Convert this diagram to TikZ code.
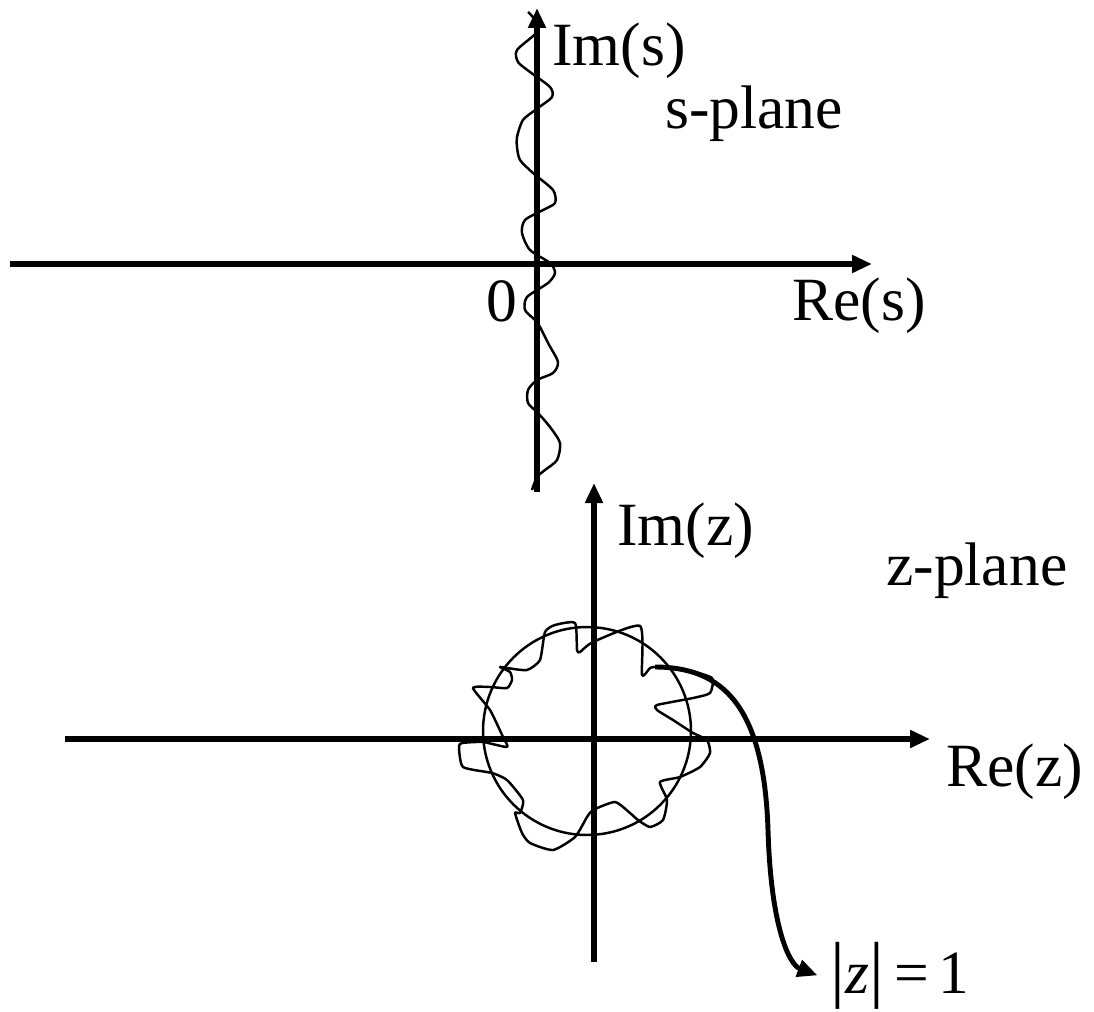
\documentclass[tikz,border=0pt]{standalone}
\usepackage{fontspec}
\setmainfont{Liberation Serif}
\usetikzlibrary{arrows.meta,positioning}

\begin{document}
\begin{tikzpicture}[
    x=0.02cm, y=-0.02cm,
    axis/.style={-{Triangle[length=0.4cm, width=0.34cm]}, line width=3.2pt},
    wiggle/.style={line width=1.4pt, line join=round},
    lbl/.style={inner sep=0pt, anchor=base west, font=\fontsize{35}{40}\selectfont},
    pointer/.style={-{Triangle[length=0.4cm, width=0.34cm]}, line width=2.8pt}
]
    \useasboundingbox (0,0) rectangle (1094,1011);

    % s-plane
    \coordinate (sLeft) at (10,264);
    \coordinate (sRight) at (872,264);
    \coordinate (sBottom) at (537,492);
    \coordinate (sTop) at (537,8);
    \draw[axis] (sLeft) -- (sRight);
    \draw[axis] (sBottom) -- (sTop);

    \node[lbl] (imS) at (552,65) {Im(s)};
    \node[lbl] (sPlane) at (665,128) {s-plane};
    \node[lbl] (zero) at (486,321) {0};
    \node[lbl] (reS) at (792,320) {Re(s)};

    \draw[wiggle] plot[smooth, tension=0.45] coordinates {
        (528,12) (535,20) (537,32) (517,50) (518,62) (530,72) (550,87)
        (552,97) (538,108) (523,120) (517,137) (517,147) (520,160) (533,173)
        (553,190) (555,203) (543,210) (525,220) (522,233) (530,250) (550,263)
        (555,273) (548,283) (527,297) (525,310) (535,320) (540,327) (548,343)
        (558,362) (553,373) (537,380) (528,390) (528,403) (538,413) (550,427)
        (560,443) (557,460) (545,470) (537,477) (532,490)};

    % z-plane
    \coordinate (zLeft) at (65,739);
    \coordinate (zRight) at (930,739);
    \coordinate (zBottom) at (594,962);
    \coordinate (zTop) at (594,483);
    \draw[axis] (zLeft) -- (zRight);
    \draw[axis] (zBottom) -- (zTop);

    \node[lbl] (imZ) at (617,545) {Im(z)};
    \node[lbl] (zPlane) at (886,585) {z-plane};
    \node[lbl] (reZ) at (946,786) {Re(z)};
    \node[lbl] (unitLbl) at (830,993) {{\fontsize{42}{42}\selectfont\textbar}\textit{z}{\fontsize{42}{42}\selectfont\textbar}\,=\,1};

    \coordinate (zCentre) at (587,731);
    \draw[wiggle] (zCentre) circle (2.08cm);

    \draw[wiggle] plot[smooth cycle, tension=0.35] coordinates {
        (575,623) (577,650) (580,652) (593,642) (640,626) (642,675) (650,668)
        (657,667) (687,670) (712,678) (710,693) (693,698) (657,705) (657,710)
        (673,720) (693,733) (707,740) (710,753) (700,767) (680,777) (660,782)
        (667,800) (663,820) (650,827) (638,820) (630,813) (615,802) (593,810)
        (587,817) (575,837) (553,850) (530,843) (522,833) (515,813) (520,813)
        (523,800) (507,780) (492,773) (463,767) (459,747) (462,743) (483,742)
        (507,747) (503,737) (490,710) (473,688) (490,687) (507,688) (512,680)
        (510,672) (500,667) (507,668) (527,670) (540,660) (545,632) (555,625)};

    \coordinate (tail) at (655,667);
    \draw[pointer] (tail) .. controls (722,667) and (764,705) .. (768,830)
        .. controls (771,930) and (790,965) .. ([xshift=-0.25cm]unitLbl.west);
\end{tikzpicture}
\end{document}
